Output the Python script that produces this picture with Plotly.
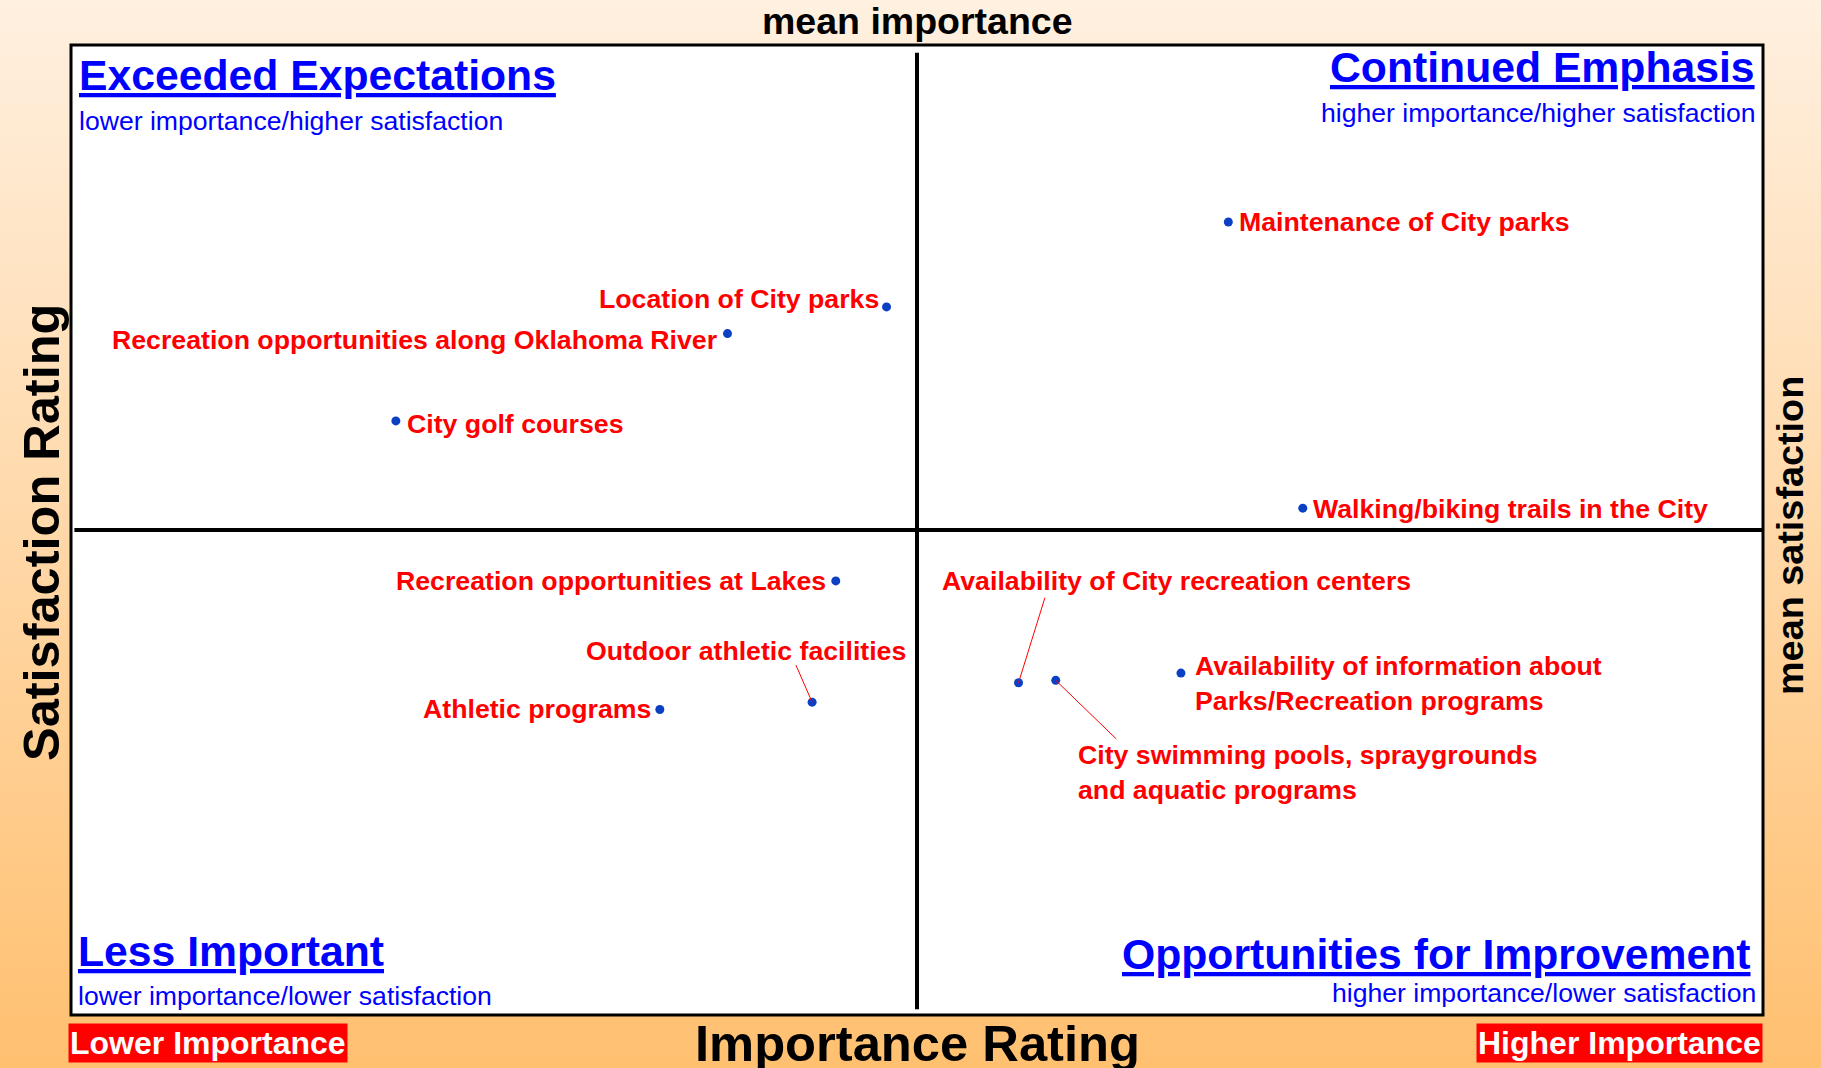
import base64
import plotly.graph_objects as go

# importance (x) / satisfaction (y)
items = [
    "Maintenance of City parks",
    "Location of City parks",
    "Recreation opportunities along Oklahoma River",
    "City golf courses",
    "Walking/biking trails in the City",
    "Recreation opportunities at Lakes",
    "Outdoor athletic facilities",
    "Athletic programs",
    "Availability of City recreation centers",
    "City swimming pools, spraygrounds<br>and aquatic programs",
    "Availability of information about<br>Parks/Recreation programs",
]
importance = [34.2, 24.1, 19.4, 9.6, 36.4, 22.6, 21.9, 17.4, 28.0, 29.1, 32.8]
satisfaction = [72.7, 69.2, 68.1, 64.5, 60.9, 57.9, 52.9, 52.6, 53.7, 53.8, 54.1]

mean_importance = 25.0
mean_satisfaction = 60.0
x_range = [0, 50]
y_range = [40, 80]

# label placement: (xanchor, xshift, yshift, leader line end or None)
placement = [
    ("left", 9, 0, None),
    ("right", -6, 8, None),
    ("right", -9, -6, None),
    ("left", 9, -3, None),
    ("left", 8, -1, None),
    ("right", -8, 0, None),
    ("center", -66, 51, (-17, 39)),
    ("right", -7, 0, None),
    ("center", 158, 102, (27, 87)),
    ("left", 20, -92, (62, -60)),
    ("left", 12, -10, None),
]

W, H = 1821, 1068
ml, mr, mt, mb = 71, 58, 45, 53
pw, ph = W - ml - mr, H - mt - mb

font = "Arial, Liberation Sans, sans-serif"
red = "#FF0000"
blue = "#0000FF"

fig = go.Figure()
fig.add_trace(go.Scatter(
    x=importance, y=satisfaction, mode="markers",
    marker=dict(color="#0B3FC4", size=9),
    hoverinfo="text", hovertext=items, showlegend=False,
))

ann = []
for name, xi, yi, (anchor, dx, dy, line) in zip(items, importance, satisfaction, placement):
    ann.append(dict(
        x=xi, y=yi, xref="x", yref="y", text="<b>" + name + "</b>", showarrow=False,
        xanchor=anchor, yanchor="middle", xshift=dx, yshift=dy, align="left",
        font=dict(family=font, size=26.7, color=red),
    ))
    if line is not None:
        ann.append(dict(
            x=xi, y=yi, xref="x", yref="y", text=" ", showarrow=True,
            ax=line[0], ay=-line[1], arrowhead=0, arrowwidth=1, arrowcolor=red,
            standoff=0, startstandoff=0, font=dict(size=1),
        ))

quadrants = [
    ("Exceeded Expectations", "lower importance/higher satisfaction", 0, 1, "left"),
    ("Continued Emphasis", "higher importance/higher satisfaction", 1, 1, "right"),
    ("Less Important", "lower importance/lower satisfaction", 0, 0, "left"),
    ("Opportunities for Improvement", "higher importance/lower satisfaction", 1, 0, "right"),
]
title_pos = {
    (0, 1): (6, -30, 6, -76),
    (1, 1): (-6, -22, -5, -68),
    (0, 0): (5, 64, 5, 19),
    (1, 0): (-10, 61, -5, 22),
}
for title, sub, qx, qy, anchor in quadrants:
    tx, ty, sx, sy = title_pos[(qx, qy)]
    ann.append(dict(
        x=qx, y=qy, xref="paper", yref="paper", text="<b><u>" + title + "</u></b>",
        showarrow=False, xanchor=anchor, yanchor="middle", xshift=tx, yshift=ty,
        font=dict(family=font, size=42.7, color=blue),
    ))
    ann.append(dict(
        x=qx, y=qy, xref="paper", yref="paper", text=sub,
        showarrow=False, xanchor=anchor, yanchor="middle", xshift=sx, yshift=sy,
        font=dict(family=font, size=26.6, color=blue),
    ))

ann += [
    dict(x=0.5, y=1, xref="paper", yref="paper", text="<b>mean importance</b>",
         showarrow=False, yanchor="middle", yshift=24,
         font=dict(family=font, size=37.5, color="black")),
    dict(x=0.5, y=0, xref="paper", yref="paper", text="<b>Importance Rating</b>",
         showarrow=False, yanchor="middle", yshift=-28,
         font=dict(family=font, size=50.7, color="black")),
    dict(x=0, y=0.5, xref="paper", yref="paper", text="<b>Satisfaction Rating</b>",
         showarrow=False, xanchor="center", xshift=-30, yshift=-3, textangle=-90,
         font=dict(family=font, size=50.5, color="black")),
    dict(x=1, y=0.5, xref="paper", yref="paper", text="<b>mean satisfaction</b>",
         showarrow=False, xanchor="center", xshift=27, yshift=-6, textangle=-90,
         font=dict(family=font, size=37.8, color="black")),
    dict(x=0, y=0, xref="paper", yref="paper", text="<b>Lower Importance</b>",
         showarrow=False, xanchor="left", yanchor="middle", xshift=-3, yshift=-28,
         bgcolor=red, borderpad=1, font=dict(family=font, size=32, color="white")),
    dict(x=1, y=0, xref="paper", yref="paper", text="<b>Higher Importance</b>",
         showarrow=False, xanchor="right", yanchor="middle", xshift=0, yshift=-28,
         bgcolor=red, borderpad=1, font=dict(family=font, size=32, color="white")),
]

svg = (
    '<svg xmlns="http://www.w3.org/2000/svg" width="100" height="100" preserveAspectRatio="none">'
    '<defs><linearGradient id="g" x1="0" y1="0" x2="0" y2="1">'
    '<stop offset="0" stop-color="#FFF0E0"/><stop offset="1" stop-color="#FFC070"/>'
    '</linearGradient></defs><rect width="100" height="100" fill="url(#g)"/></svg>'
)
bg_src = "data:image/svg+xml;base64," + base64.b64encode(svg.encode()).decode()

shapes = [
    dict(type="rect", xref="paper", yref="paper", x0=0, x1=1, y0=0, y1=1,
         fillcolor="white", line=dict(color="black", width=3), layer="below"),
    dict(type="line", xref="x", yref="paper", x0=mean_importance, x1=mean_importance,
         y0=0.006, y1=0.992, line=dict(color="black", width=4), layer="below"),
    dict(type="line", xref="paper", yref="y", x0=0.002, x1=1, y0=mean_satisfaction,
         y1=mean_satisfaction, line=dict(color="black", width=4), layer="below"),
]

fig.update_layout(
    width=W, height=H,
    margin=dict(l=ml, r=mr, t=mt, b=mb),
    paper_bgcolor="#FFD8A8",
    plot_bgcolor="white",
    xaxis=dict(range=x_range, visible=False, fixedrange=True),
    yaxis=dict(range=y_range, visible=False, fixedrange=True),
    images=[dict(
        source=bg_src, xref="paper", yref="paper",
        x=-ml / pw, y=1 + mt / ph, sizex=W / pw, sizey=H / ph,
        sizing="stretch", xanchor="left", yanchor="top", layer="below",
    )],
    shapes=shapes,
    annotations=ann,
)

# drop the default page margin so the figure sits at the window's corner
fig.write_html(
    "out.html",
    config={"displayModeBar": False},
    post_script="document.body.style.margin='0px';",
)
